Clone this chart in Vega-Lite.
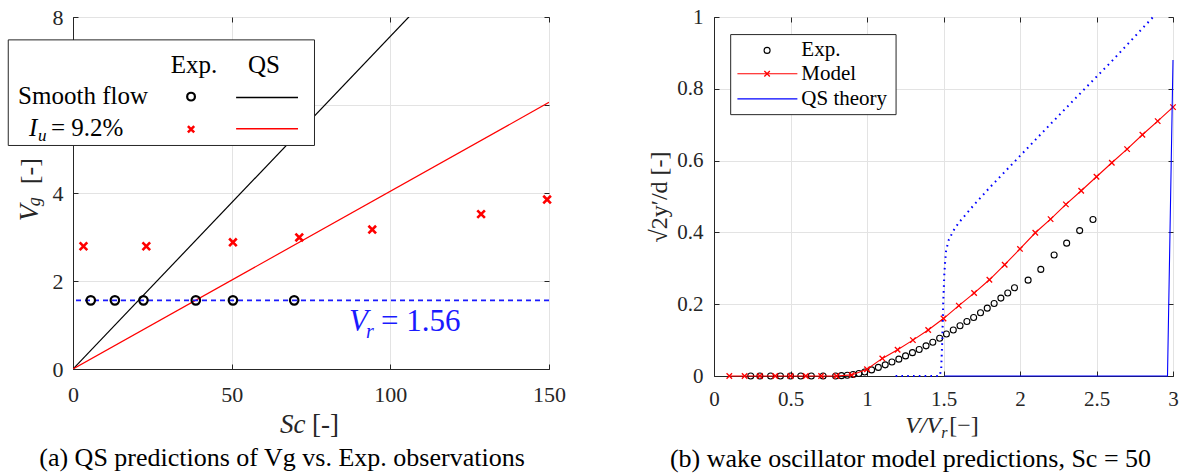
{
  "$schema": "https://vega.github.io/schema/vega-lite/v6.json",
  "background": "white",
  "padding": {"left": 7, "top": 5, "right": 2, "bottom": 2},
  "spacing": 165,
  "bounds": "flush",
  "config": {
    "font": "Liberation Serif",
    "view": {"stroke": "#262626", "strokeWidth": 1},
    "axis": {
      "labelFont": "Liberation Serif", "titleFont": "Liberation Serif",
      "labelColor": "#262626", "titleColor": "#262626", "titleFontWeight": "normal",
      "domainColor": "#262626", "domainWidth": 1, "tickColor": "#262626", "tickSize": -5, "tickWidth": 1,
      "gridColor": "#e3e3e3", "gridWidth": 1, "labelFlush": false
    },
    "title": {"font": "Liberation Serif", "fontWeight": "normal", "color": "#000000"}
  },
  "datasets": {
    "qsA": [
      {"Sc": 0, "Vg": 0, "case": "smooth"}, {"Sc": 150, "Vg": 11.34, "case": "smooth"},
      {"Sc": 0, "Vg": 0, "case": "turb"}, {"Sc": 150, "Vg": 6.06, "case": "turb"}
    ],
    "expSmooth": [
      {"Sc": 5.6, "Vg": 1.56}, {"Sc": 13.2, "Vg": 1.56}, {"Sc": 22.2, "Vg": 1.56},
      {"Sc": 38.7, "Vg": 1.56}, {"Sc": 50.4, "Vg": 1.56}, {"Sc": 69.7, "Vg": 1.56}
    ],
    "expTurb": [
      {"Sc": 3.3, "Vg": 2.79}, {"Sc": 23.1, "Vg": 2.79}, {"Sc": 50.4, "Vg": 2.88},
      {"Sc": 71.3, "Vg": 2.99}, {"Sc": 94.3, "Vg": 3.17}, {"Sc": 128.6, "Vg": 3.52}, {"Sc": 149.4, "Vg": 3.85}
    ],
    "model": [
      {"VVr": 0.1, "amp": 0}, {"VVr": 0.2, "amp": 0}, {"VVr": 0.3, "amp": 0}, {"VVr": 0.4, "amp": 0},
      {"VVr": 0.5, "amp": 0}, {"VVr": 0.6, "amp": 0}, {"VVr": 0.7, "amp": 0}, {"VVr": 0.8, "amp": 0},
      {"VVr": 0.9, "amp": 0.003}, {"VVr": 1.0, "amp": 0.019}, {"VVr": 1.1, "amp": 0.049}, {"VVr": 1.2, "amp": 0.073},
      {"VVr": 1.3, "amp": 0.100}, {"VVr": 1.4, "amp": 0.128}, {"VVr": 1.5, "amp": 0.160}, {"VVr": 1.6, "amp": 0.196},
      {"VVr": 1.7, "amp": 0.231}, {"VVr": 1.8, "amp": 0.268}, {"VVr": 1.9, "amp": 0.310}, {"VVr": 2.0, "amp": 0.354},
      {"VVr": 2.1, "amp": 0.399}, {"VVr": 2.2, "amp": 0.437}, {"VVr": 2.3, "amp": 0.478}, {"VVr": 2.4, "amp": 0.516},
      {"VVr": 2.5, "amp": 0.555}, {"VVr": 2.6, "amp": 0.594}, {"VVr": 2.7, "amp": 0.632}, {"VVr": 2.8, "amp": 0.672},
      {"VVr": 2.9, "amp": 0.710}, {"VVr": 3.0, "amp": 0.749}
    ],
    "expB": [
      {"VVr": 0.24, "amp": 0}, {"VVr": 0.30, "amp": 0}, {"VVr": 0.37, "amp": 0}, {"VVr": 0.434, "amp": 0},
      {"VVr": 0.50, "amp": 0}, {"VVr": 0.567, "amp": 0}, {"VVr": 0.636, "amp": 0}, {"VVr": 0.713, "amp": 0},
      {"VVr": 0.795, "amp": 0}, {"VVr": 0.833, "amp": 0.001}, {"VVr": 0.871, "amp": 0.002}, {"VVr": 0.909, "amp": 0.004},
      {"VVr": 0.947, "amp": 0.007}, {"VVr": 0.985, "amp": 0.011}, {"VVr": 1.030, "amp": 0.017}, {"VVr": 1.074, "amp": 0.024},
      {"VVr": 1.119, "amp": 0.031}, {"VVr": 1.163, "amp": 0.039}, {"VVr": 1.208, "amp": 0.047}, {"VVr": 1.252, "amp": 0.056},
      {"VVr": 1.297, "amp": 0.065}, {"VVr": 1.341, "amp": 0.074}, {"VVr": 1.386, "amp": 0.084}, {"VVr": 1.430, "amp": 0.094},
      {"VVr": 1.475, "amp": 0.105}, {"VVr": 1.519, "amp": 0.117}, {"VVr": 1.564, "amp": 0.128}, {"VVr": 1.608, "amp": 0.140},
      {"VVr": 1.653, "amp": 0.152}, {"VVr": 1.697, "amp": 0.163}, {"VVr": 1.742, "amp": 0.176}, {"VVr": 1.786, "amp": 0.189},
      {"VVr": 1.831, "amp": 0.202}, {"VVr": 1.875, "amp": 0.217}, {"VVr": 1.920, "amp": 0.231}, {"VVr": 1.964, "amp": 0.246},
      {"VVr": 2.053, "amp": 0.267}, {"VVr": 2.136, "amp": 0.297}, {"VVr": 2.223, "amp": 0.337}, {"VVr": 2.305, "amp": 0.370},
      {"VVr": 2.390, "amp": 0.405}, {"VVr": 2.477, "amp": 0.436}
    ],
    "qsDotted": [
      {"VVr": 1.187, "amp": 0}, {"VVr": 1.475, "amp": 0}, {"VVr": 1.485, "amp": 0.02}, {"VVr": 1.492, "amp": 0.10},
      {"VVr": 1.498, "amp": 0.20}, {"VVr": 1.505, "amp": 0.28}, {"VVr": 1.511, "amp": 0.32}, {"VVr": 1.517, "amp": 0.35},
      {"VVr": 1.535, "amp": 0.38}, {"VVr": 1.572, "amp": 0.41}, {"VVr": 1.6, "amp": 0.427}, {"VVr": 1.7, "amp": 0.477},
      {"VVr": 1.8, "amp": 0.524}, {"VVr": 2.0, "amp": 0.613}, {"VVr": 2.2, "amp": 0.702}, {"VVr": 2.4, "amp": 0.79},
      {"VVr": 2.6, "amp": 0.877}, {"VVr": 2.87, "amp": 1.0}
    ],
    "qsSolid": [
      {"VVr": 1.505, "amp": 0}, {"VVr": 2.964, "amp": 0}, {"VVr": 3.0, "amp": 0.88}
    ]
  },
  "hconcat": [
    {
      "width": 476,
      "height": 352,
      "title": {"text": "(a) QS predictions of Vg vs. Exp. observations", "orient": "bottom", "anchor": "middle", "dx": -29, "offset": 7, "fontSize": 26, "font": "Liberation Serif"},
      "resolve": {"axis": {"x": "independent", "y": "independent"}},
      "layer": [
        {
          "data": {"name": "qsA"},
          "mark": {"type": "line", "clip": true, "strokeWidth": 1.2},
          "encoding": {
            "x": {"field": "Sc", "type": "quantitative", "scale": {"domain": [0, 150], "nice": false, "zero": false},
                  "axis": {"values": [0, 50, 100, 150], "title": null, "labelFont": "Liberation Serif", "labelFontSize": 22, "labelPadding": 20, "labelFlush": false, "grid": true}},
            "y": {"field": "Vg", "type": "quantitative", "scale": {"domain": [0, 8], "nice": false},
                  "axis": {"values": [0, 2, 4, 6, 8], "labelExpr": "datum.value == 6 ? '' : datum.label", "title": null, "labelFont": "Liberation Serif", "labelFontSize": 22, "labelPadding": 15, "labelFlush": false, "grid": true}},
            "color": {"field": "case", "type": "nominal", "scale": {"domain": ["smooth", "turb"], "range": ["#000000", "#ff0000"]}, "legend": null}
          }
        },
        {
          "data": {"values": [{}]},
          "mark": {"type": "rule", "color": "#1a1aff", "strokeDash": [5, 4], "strokeWidth": 1.6},
          "encoding": {"y": {"datum": 1.56, "type": "quantitative", "axis": null}}
        },
        {
          "data": {"name": "expSmooth"},
          "mark": {"type": "point", "shape": "circle", "filled": false, "stroke": "#000000", "strokeWidth": 2.2, "size": 72, "opacity": 1},
          "encoding": {
            "x": {"field": "Sc", "type": "quantitative", "axis": {"orient": "top", "values": [0, 50, 100, 150], "labels": false, "domain": false, "grid": false, "title": null}},
            "y": {"field": "Vg", "type": "quantitative", "axis": {"orient": "right", "values": [0, 2, 4, 6, 8], "labels": false, "domain": false, "grid": false, "title": null}}
          }
        },
        {
          "data": {"name": "expTurb"},
          "mark": {"type": "point", "shape": "M-1,-1L1,1M-1,1L1,-1", "filled": false, "stroke": "#ff0000", "strokeWidth": 2.6, "size": 58, "opacity": 1},
          "encoding": {
            "x": {"field": "Sc", "type": "quantitative", "axis": null},
            "y": {"field": "Vg", "type": "quantitative", "axis": null}
          }
        },
        {
          "data": {"values": [{}]},
          "mark": {"type": "text", "text": "V", "font": "Liberation Serif", "fontStyle": "italic", "fontSize": 31, "color": "#1a1aff", "align": "left", "baseline": "alphabetic", "clip": false},
          "encoding": {"x": {"datum": 87, "type": "quantitative", "axis": null}, "y": {"datum": 0.864, "type": "quantitative", "axis": null}}
        },
        {
          "data": {"values": [{}]},
          "mark": {"type": "text", "text": "r", "font": "Liberation Serif", "fontStyle": "italic", "fontSize": 20, "color": "#1a1aff", "align": "left", "baseline": "alphabetic", "dx": 17, "dy": 7, "clip": false},
          "encoding": {"x": {"datum": 87, "type": "quantitative", "axis": null}, "y": {"datum": 0.864, "type": "quantitative", "axis": null}}
        },
        {
          "data": {"values": [{}]},
          "mark": {"type": "text", "text": "= 1.56", "font": "Liberation Serif", "fontSize": 31, "color": "#1a1aff", "align": "left", "baseline": "alphabetic", "dx": 32, "clip": false},
          "encoding": {"x": {"datum": 87, "type": "quantitative", "axis": null}, "y": {"datum": 0.864, "type": "quantitative", "axis": null}}
        },
        {
          "data": {"values": [{}]},
          "mark": {"type": "rect", "fill": "#ffffff", "stroke": "#262626", "strokeWidth": 1, "clip": false},
          "encoding": {
            "x": {"datum": -20.4, "type": "quantitative", "axis": null}, "x2": {"datum": 76.1},
            "y": {"datum": 7.48, "type": "quantitative", "axis": null}, "y2": {"datum": 5.08}
          }
        },
        {
          "data": {"values": [{}]},
          "mark": {"type": "text", "text": "Exp.", "font": "Liberation Serif", "fontSize": 25, "color": "#000000", "align": "center", "baseline": "alphabetic", "clip": false},
          "encoding": {"x": {"datum": 38.1, "type": "quantitative", "axis": null}, "y": {"datum": 6.727, "type": "quantitative", "axis": null}}
        },
        {
          "data": {"values": [{}]},
          "mark": {"type": "text", "text": "QS", "font": "Liberation Serif", "fontSize": 25, "color": "#000000", "align": "center", "baseline": "alphabetic", "clip": false},
          "encoding": {"x": {"datum": 60.2, "type": "quantitative", "axis": null}, "y": {"datum": 6.727, "type": "quantitative", "axis": null}}
        },
        {
          "data": {"values": [{}]},
          "mark": {"type": "text", "text": "Smooth flow", "font": "Liberation Serif", "fontSize": 25, "color": "#000000", "align": "left", "baseline": "alphabetic", "clip": false},
          "encoding": {"x": {"datum": -17.3, "type": "quantitative", "axis": null}, "y": {"datum": 6.023, "type": "quantitative", "axis": null}}
        },
        {
          "data": {"values": [{}]},
          "mark": {"type": "text", "text": "I", "font": "Liberation Serif", "fontStyle": "italic", "fontSize": 25, "color": "#000000", "align": "left", "baseline": "alphabetic", "clip": false},
          "encoding": {"x": {"datum": -13.9, "type": "quantitative", "axis": null}, "y": {"datum": 5.295, "type": "quantitative", "axis": null}}
        },
        {
          "data": {"values": [{}]},
          "mark": {"type": "text", "text": "u", "font": "Liberation Serif", "fontStyle": "italic", "fontSize": 17, "color": "#000000", "align": "left", "baseline": "alphabetic", "dx": 9, "dy": 5, "clip": false},
          "encoding": {"x": {"datum": -13.9, "type": "quantitative", "axis": null}, "y": {"datum": 5.295, "type": "quantitative", "axis": null}}
        },
        {
          "data": {"values": [{}]},
          "mark": {"type": "text", "text": "= 9.2%", "font": "Liberation Serif", "fontSize": 25, "color": "#000000", "align": "left", "baseline": "alphabetic", "dx": 22, "clip": false},
          "encoding": {"x": {"datum": -13.9, "type": "quantitative", "axis": null}, "y": {"datum": 5.295, "type": "quantitative", "axis": null}}
        },
        {
          "data": {"values": [{}]},
          "mark": {"type": "point", "shape": "circle", "filled": false, "stroke": "#000000", "strokeWidth": 2.2, "size": 60, "opacity": 1, "clip": false},
          "encoding": {"x": {"datum": 37.2, "type": "quantitative", "axis": null}, "y": {"datum": 6.19, "type": "quantitative", "axis": null}}
        },
        {
          "data": {"values": [{}]},
          "mark": {"type": "point", "shape": "M-1,-1L1,1M-1,1L1,-1", "filled": false, "stroke": "#ff0000", "strokeWidth": 2.5, "size": 40, "opacity": 1, "clip": false},
          "encoding": {"x": {"datum": 37.2, "type": "quantitative", "axis": null}, "y": {"datum": 5.45, "type": "quantitative", "axis": null}}
        },
        {
          "data": {"values": [{}]},
          "mark": {"type": "rule", "color": "#000000", "strokeWidth": 1.4, "clip": false},
          "encoding": {"x": {"datum": 51.4, "type": "quantitative", "axis": null}, "x2": {"datum": 70.9}, "y": {"datum": 6.17, "type": "quantitative", "axis": null}}
        },
        {
          "data": {"values": [{}]},
          "mark": {"type": "rule", "color": "#ff0000", "strokeWidth": 1.4, "clip": false},
          "encoding": {"x": {"datum": 51.4, "type": "quantitative", "axis": null}, "x2": {"datum": 70.9}, "y": {"datum": 5.46, "type": "quantitative", "axis": null}}
        },
        {
          "data": {"values": [{}]},
          "mark": {"type": "text", "text": "V", "font": "Liberation Serif", "fontStyle": "italic", "fontSize": 27, "color": "#262626", "align": "left", "baseline": "alphabetic", "angle": 270, "clip": false},
          "encoding": {"x": {"datum": -11.0, "type": "quantitative", "axis": null}, "y": {"datum": 3.36, "type": "quantitative", "axis": null}}
        },
        {
          "data": {"values": [{}]},
          "mark": {"type": "text", "text": "g", "font": "Liberation Serif", "fontStyle": "italic", "fontSize": 18, "color": "#262626", "align": "left", "baseline": "alphabetic", "angle": 270, "dx": 15, "dy": 2, "clip": false},
          "encoding": {"x": {"datum": -11.0, "type": "quantitative", "axis": null}, "y": {"datum": 3.36, "type": "quantitative", "axis": null}}
        },
        {
          "data": {"values": [{}]},
          "mark": {"type": "text", "text": "[-]", "font": "Liberation Serif", "fontSize": 26, "color": "#262626", "align": "left", "baseline": "alphabetic", "angle": 270, "dx": 37, "clip": false},
          "encoding": {"x": {"datum": -11.0, "type": "quantitative", "axis": null}, "y": {"datum": 3.36, "type": "quantitative", "axis": null}}
        },
        {
          "data": {"values": [{}]},
          "mark": {"type": "text", "text": "Sc", "font": "Liberation Serif", "fontStyle": "italic", "fontSize": 27, "color": "#262626", "align": "left", "baseline": "alphabetic", "clip": false},
          "encoding": {"x": {"datum": 65.2, "type": "quantitative", "axis": null}, "y": {"datum": -1.455, "type": "quantitative", "axis": null}}
        },
        {
          "data": {"values": [{}]},
          "mark": {"type": "text", "text": "[-]", "font": "Liberation Serif", "fontSize": 27, "color": "#262626", "align": "left", "baseline": "alphabetic", "dx": 32, "clip": false},
          "encoding": {"x": {"datum": 65.2, "type": "quantitative", "axis": null}, "y": {"datum": -1.455, "type": "quantitative", "axis": null}}
        }
      ]
    },
    {
      "width": 459,
      "height": 359,
      "title": {"text": "(b) wake oscillator model predictions, Sc = 50", "orient": "bottom", "anchor": "middle", "dx": -33, "offset": 5, "fontSize": 26, "font": "Liberation Serif"},
      "resolve": {"axis": {"x": "independent", "y": "independent"}},
      "layer": [
        {
          "data": {"name": "expB"},
          "mark": {"type": "point", "shape": "circle", "filled": false, "stroke": "#000000", "strokeWidth": 1.1, "size": 36, "opacity": 1},
          "encoding": {
            "x": {"field": "VVr", "type": "quantitative", "scale": {"domain": [0, 3], "nice": false, "zero": false},
                  "axis": {"values": [0, 0.5, 1, 1.5, 2, 2.5, 3], "format": "~g", "title": null, "labelFont": "Liberation Serif", "labelFontSize": 21, "labelPadding": 17, "labelFlush": false, "grid": true}},
            "y": {"field": "amp", "type": "quantitative", "scale": {"domain": [0, 1], "nice": false},
                  "axis": {"values": [0, 0.2, 0.4, 0.6, 0.8, 1], "format": "~g", "title": "√2y′/d [-]", "titleFont": "Liberation Serif", "titleFontSize": 24, "titlePadding": 5, "labelFont": "Liberation Serif", "labelFontSize": 21, "labelPadding": 16, "labelFlush": false, "grid": true}}
          }
        },
        {
          "data": {"name": "model"},
          "mark": {"type": "line", "color": "#ff0000", "strokeWidth": 1.1},
          "encoding": {
            "x": {"field": "VVr", "type": "quantitative", "axis": {"orient": "top", "values": [0, 0.5, 1, 1.5, 2, 2.5, 3], "labels": false, "domain": false, "grid": false, "title": null}},
            "y": {"field": "amp", "type": "quantitative", "axis": {"orient": "right", "values": [0, 0.2, 0.4, 0.6, 0.8, 1], "labels": false, "domain": false, "grid": false, "title": null}}
          }
        },
        {
          "data": {"name": "model"},
          "mark": {"type": "point", "shape": "M-1,-1L1,1M-1,1L1,-1", "filled": false, "stroke": "#ff0000", "strokeWidth": 1.3, "size": 30, "opacity": 1},
          "encoding": {
            "x": {"field": "VVr", "type": "quantitative", "axis": null},
            "y": {"field": "amp", "type": "quantitative", "axis": null}
          }
        },
        {
          "data": {"name": "qsDotted"},
          "mark": {"type": "line", "color": "#0000ff", "strokeWidth": 2, "strokeDash": [1.6, 4.2]},
          "encoding": {
            "x": {"field": "VVr", "type": "quantitative", "axis": null},
            "y": {"field": "amp", "type": "quantitative", "axis": null}
          }
        },
        {
          "data": {"name": "qsSolid"},
          "mark": {"type": "line", "color": "#0000ff", "strokeWidth": 1.1},
          "encoding": {
            "x": {"field": "VVr", "type": "quantitative", "axis": null},
            "y": {"field": "amp", "type": "quantitative", "axis": null}
          }
        },
        {
          "data": {"values": [{}]},
          "mark": {"type": "rect", "fill": "#ffffff", "stroke": "#262626", "strokeWidth": 1, "clip": false},
          "encoding": {
            "x": {"datum": 0.109, "type": "quantitative", "axis": null}, "x2": {"datum": 1.19},
            "y": {"datum": 0.951, "type": "quantitative", "axis": null}, "y2": {"datum": 0.728}
          }
        },
        {
          "data": {"values": [{}]},
          "mark": {"type": "point", "shape": "circle", "filled": false, "stroke": "#000000", "strokeWidth": 1.1, "size": 36, "opacity": 1},
          "encoding": {"x": {"datum": 0.347, "type": "quantitative", "axis": null}, "y": {"datum": 0.907, "type": "quantitative", "axis": null}}
        },
        {
          "data": {"values": [{}]},
          "mark": {"type": "rule", "color": "#ff0000", "strokeWidth": 1.1},
          "encoding": {"x": {"datum": 0.153, "type": "quantitative", "axis": null}, "x2": {"datum": 0.545}, "y": {"datum": 0.842, "type": "quantitative", "axis": null}}
        },
        {
          "data": {"values": [{}]},
          "mark": {"type": "point", "shape": "M-1,-1L1,1M-1,1L1,-1", "filled": false, "stroke": "#ff0000", "strokeWidth": 1.3, "size": 30, "opacity": 1},
          "encoding": {"x": {"datum": 0.347, "type": "quantitative", "axis": null}, "y": {"datum": 0.842, "type": "quantitative", "axis": null}}
        },
        {
          "data": {"values": [{}]},
          "mark": {"type": "rule", "color": "#0000ff", "strokeWidth": 1.1},
          "encoding": {"x": {"datum": 0.153, "type": "quantitative", "axis": null}, "x2": {"datum": 0.545}, "y": {"datum": 0.772, "type": "quantitative", "axis": null}}
        },
        {
          "data": {"values": [{}]},
          "mark": {"type": "text", "text": "Exp.", "font": "Liberation Serif", "fontSize": 21, "color": "#000000", "align": "left", "baseline": "middle"},
          "encoding": {"x": {"datum": 0.571, "type": "quantitative", "axis": null}, "y": {"datum": 0.907, "type": "quantitative", "axis": null}}
        },
        {
          "data": {"values": [{}]},
          "mark": {"type": "text", "text": "Model", "font": "Liberation Serif", "fontSize": 21, "color": "#000000", "align": "left", "baseline": "middle"},
          "encoding": {"x": {"datum": 0.571, "type": "quantitative", "axis": null}, "y": {"datum": 0.842, "type": "quantitative", "axis": null}}
        },
        {
          "data": {"values": [{}]},
          "mark": {"type": "text", "text": "QS theory", "font": "Liberation Serif", "fontSize": 21, "color": "#000000", "align": "left", "baseline": "middle"},
          "encoding": {"x": {"datum": 0.571, "type": "quantitative", "axis": null}, "y": {"datum": 0.772, "type": "quantitative", "axis": null}}
        },
        {
          "data": {"values": [{}]},
          "mark": {"type": "text", "text": "V/V", "font": "Liberation Serif", "fontStyle": "italic", "fontSize": 24, "color": "#262626", "align": "left", "baseline": "alphabetic", "clip": false},
          "encoding": {"x": {"datum": 1.25, "type": "quantitative", "axis": null}, "y": {"datum": -0.16, "type": "quantitative", "axis": null}}
        },
        {
          "data": {"values": [{}]},
          "mark": {"type": "text", "text": "r", "font": "Liberation Serif", "fontStyle": "italic", "fontSize": 16, "color": "#262626", "align": "left", "baseline": "alphabetic", "dx": 36, "dy": 5, "clip": false},
          "encoding": {"x": {"datum": 1.25, "type": "quantitative", "axis": null}, "y": {"datum": -0.16, "type": "quantitative", "axis": null}}
        },
        {
          "data": {"values": [{}]},
          "mark": {"type": "text", "text": "[−]", "font": "Liberation Serif", "fontSize": 24, "color": "#262626", "align": "left", "baseline": "alphabetic", "dx": 44, "clip": false},
          "encoding": {"x": {"datum": 1.25, "type": "quantitative", "axis": null}, "y": {"datum": -0.16, "type": "quantitative", "axis": null}}
        }
      ]
    }
  ]
}
